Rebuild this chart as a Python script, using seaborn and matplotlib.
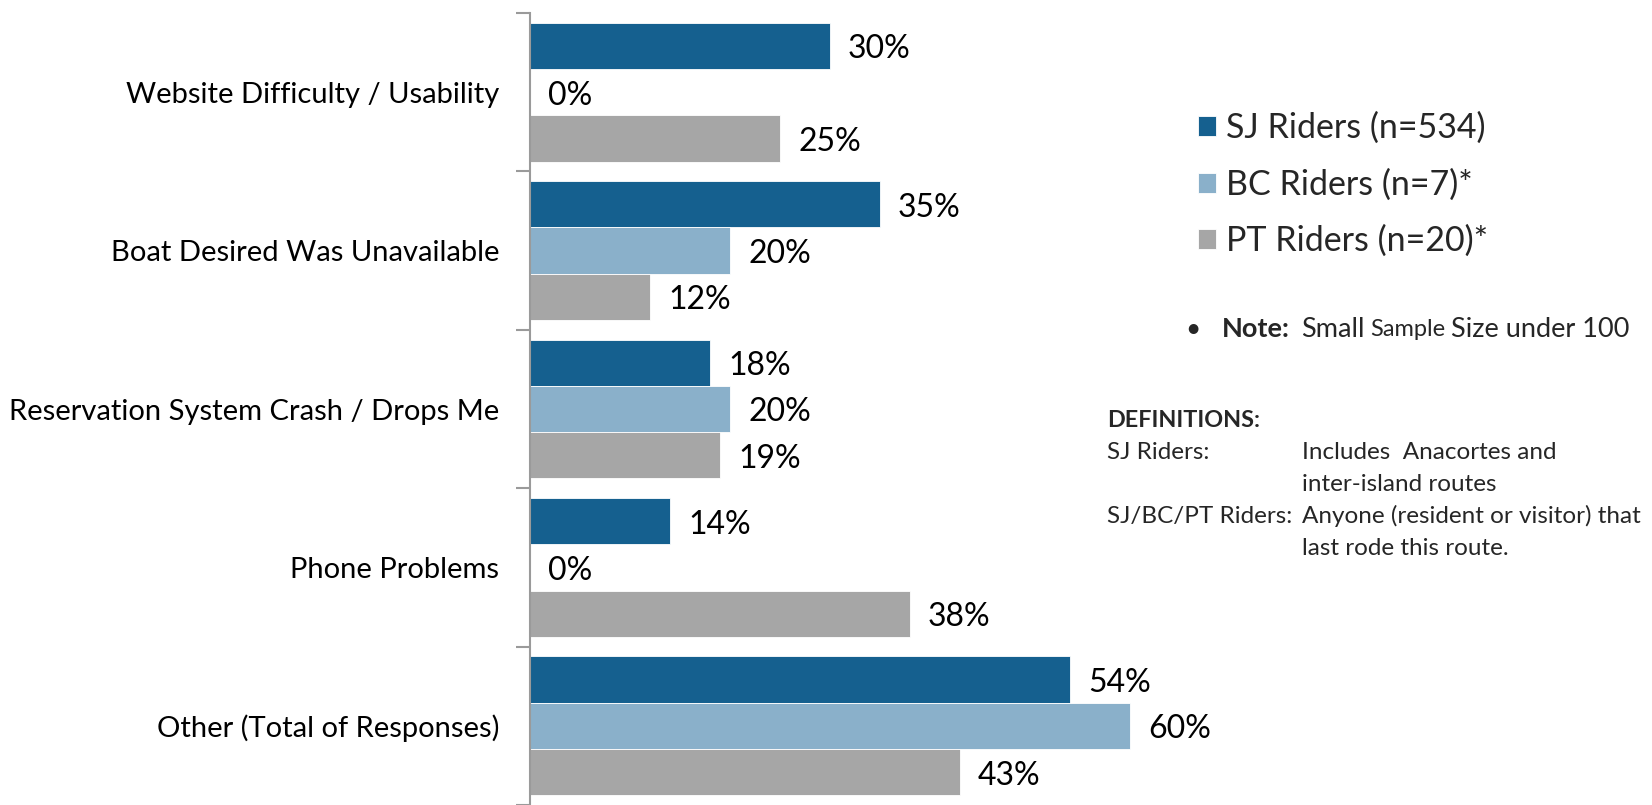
import matplotlib
matplotlib.use("Agg")
import matplotlib.pyplot as plt
import seaborn as sns
import pandas as pd
from matplotlib.ticker import FixedLocator

categories = ["Website Difficulty / Usability", "Boat Desired Was Unavailable",
              "Reservation System Crash / Drops Me", "Phone Problems",
              "Other (Total of Responses)"]
series = ["SJ Riders (n=534)", "BC Riders (n=7)*", "PT Riders (n=20)*"]
sj_values = [30, 35, 18, 14, 54]
bc_values = [0, 20, 20, 0, 60]
pt_values = [25, 12, 19, 38, 43]
colors = ["#15608F", "#8AB0CA", "#A6A6A6"]

rows = []
for s, vals in zip(series, [sj_values, bc_values, pt_values]):
    for c, v in zip(categories, vals):
        rows.append({"category": c, "series": s, "value": v})
df = pd.DataFrame(rows)

sns.set_theme(style="white")
plt.rcParams['font.family'] = ['Lato', 'DejaVu Sans']

W, H = 1652, 805
fig = plt.figure(figsize=(W / 100, H / 100), dpi=100)
ax = fig.add_axes([530 / W, 0, 700 / W, (H - 13) / H])

sns.barplot(data=df, y="category", x="value", hue="series", order=categories,
            hue_order=series, palette=colors, orient="h", width=0.876,
            saturation=1, edgecolor="white", linewidth=0.6, ax=ax, legend=True)

ax.set_xlim(0, 70)
ax.set_ylim(4.5, -0.5)
ax.set_xlabel("")
ax.set_ylabel("")
ax.set_xticks([])
for sp in ["top", "right", "bottom"]:
    ax.spines[sp].set_visible(False)
ax.spines["left"].set_color("#9A9A9A")
ax.spines["left"].set_linewidth(1.5)

ax.yaxis.set_minor_locator(FixedLocator([-0.5, 0.5, 1.5, 2.5, 3.5, 4.5]))
ax.tick_params(axis="y", which="major", length=0, pad=22, labelsize=21, labelcolor="black")
ax.tick_params(axis="y", which="minor", length=10, width=1.5, color="#9A9A9A", left=True)

for cont in ax.containers:
    texts = ax.bar_label(cont, fmt="%d%%", padding=13, fontsize=23, color="black")
    for t in texts:
        t.xyann = (13, -2.5)

handles, labels = ax.get_legend_handles_labels()
ax.legend(handles, labels, loc="upper left", bbox_to_anchor=(1198 / W, 1 - 112 / H),
          bbox_transform=fig.transFigure, frameon=False, fontsize=24.5,
          handlelength=0.53, handleheight=0.53, handletextpad=0.3, labelspacing=0.71,
          borderpad=0, borderaxespad=0)

def fx(x):
    return x / W

def fy(y):
    return 1 - y / H

fig.text(fx(1185), fy(329), "•", fontsize=19, va="center", ha="left")
t1 = fig.text(fx(1222), fy(329), "Note:", fontsize=19.5, fontweight="bold", va="center", ha="left")
t2 = ax.annotate("Small", xy=(1, 0.5), xycoords=t1, xytext=(8, 0), textcoords="offset points",
                 fontsize=19.5, va="center", ha="left")
t3 = ax.annotate("Sample", xy=(1, 0.5), xycoords=t2, xytext=(4, 0), textcoords="offset points",
                 fontsize=17, va="center", ha="left")
ax.annotate("Size under 100", xy=(1, 0.5), xycoords=t3, xytext=(4, 0), textcoords="offset points",
            fontsize=19.5, va="center", ha="left")

fs_def = 17.5
fig.text(fx(1107), fy(420), "DEFINITIONS:", fontsize=16.8, fontweight="bold", va="center")
defs_left = ["SJ Riders:", "", "SJ/BC/PT Riders:", ""]
defs_right = ["Includes  Anacortes and", "inter-island routes",
              "Anyone (resident or visitor) that", "last rode this route."]
for i, (l, r) in enumerate(zip(defs_left, defs_right)):
    y = 452 + 32 * i
    if l:
        fig.text(fx(1107), fy(y), l, fontsize=fs_def, va="center")
    fig.text(fx(1302), fy(y), r, fontsize=fs_def, va="center")

fig.savefig("out.png", dpi=100)
